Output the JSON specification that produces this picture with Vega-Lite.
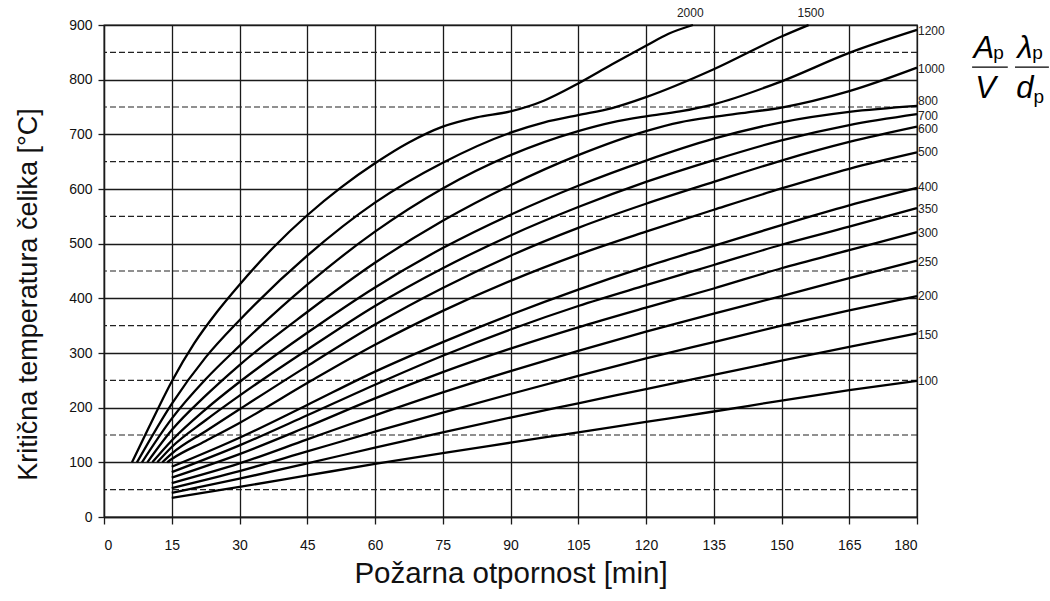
{
  "$schema": "https://vega.github.io/schema/vega-lite/v6.json",
  "width": 813,
  "height": 492,
  "autosize": {"type": "none"},
  "padding": {"left": 104, "top": 25, "right": 133, "bottom": 84},
  "background": "white",
  "config": {"view": {"stroke": "#1a1a1a", "strokeWidth": 1.3}, "font": "Liberation Sans"},
  "datasets": {
    "dash": [{"T": 50}, {"T": 150}, {"T": 250}, {"T": 350}, {"T": 450}, {"T": 550}, {"T": 650}, {"T": 750}, {"T": 850}],
    "curves": [
      {"K": 2000, "t": 6.2, "T": 100}, {"K": 2000, "t": 10, "T": 165}, {"K": 2000, "t": 15, "T": 248}, {"K": 2000, "t": 20, "T": 318}, {"K": 2000, "t": 25, "T": 375}, {"K": 2000, "t": 30, "T": 425}, {"K": 2000, "t": 37.5, "T": 493}, {"K": 2000, "t": 45, "T": 552}, {"K": 2000, "t": 52.5, "T": 603}, {"K": 2000, "t": 60, "T": 647}, {"K": 2000, "t": 67.5, "T": 685}, {"K": 2000, "t": 75, "T": 714}, {"K": 2000, "t": 82.5, "T": 731}, {"K": 2000, "t": 90, "T": 742}, {"K": 2000, "t": 97.5, "T": 762}, {"K": 2000, "t": 105, "T": 793}, {"K": 2000, "t": 112.5, "T": 828}, {"K": 2000, "t": 120, "T": 862}, {"K": 2000, "t": 125, "T": 884}, {"K": 2000, "t": 130.4, "T": 900},
      {"K": 1500, "t": 7.3, "T": 100}, {"K": 1500, "t": 15, "T": 207}, {"K": 1500, "t": 22.5, "T": 292}, {"K": 1500, "t": 30, "T": 360}, {"K": 1500, "t": 45, "T": 478}, {"K": 1500, "t": 60, "T": 575}, {"K": 1500, "t": 75, "T": 648}, {"K": 1500, "t": 90, "T": 703}, {"K": 1500, "t": 97.5, "T": 722}, {"K": 1500, "t": 105, "T": 735}, {"K": 1500, "t": 112.5, "T": 748}, {"K": 1500, "t": 120, "T": 768}, {"K": 1500, "t": 135, "T": 819}, {"K": 1500, "t": 150, "T": 879}, {"K": 1500, "t": 156, "T": 900},
      {"K": 1200, "t": 8.4, "T": 100}, {"K": 1200, "t": 15, "T": 180}, {"K": 1200, "t": 22.5, "T": 252}, {"K": 1200, "t": 30, "T": 313}, {"K": 1200, "t": 45, "T": 425}, {"K": 1200, "t": 60, "T": 522}, {"K": 1200, "t": 75, "T": 601}, {"K": 1200, "t": 90, "T": 662}, {"K": 1200, "t": 105, "T": 706}, {"K": 1200, "t": 112.5, "T": 722}, {"K": 1200, "t": 120, "T": 733}, {"K": 1200, "t": 127.5, "T": 742}, {"K": 1200, "t": 135, "T": 755}, {"K": 1200, "t": 150, "T": 797}, {"K": 1200, "t": 165, "T": 849}, {"K": 1200, "t": 180, "T": 891},
      {"K": 1000, "t": 9.6, "T": 100}, {"K": 1000, "t": 15, "T": 159}, {"K": 1000, "t": 22.5, "T": 222}, {"K": 1000, "t": 30, "T": 278}, {"K": 1000, "t": 45, "T": 375}, {"K": 1000, "t": 60, "T": 465}, {"K": 1000, "t": 75, "T": 542}, {"K": 1000, "t": 90, "T": 607}, {"K": 1000, "t": 105, "T": 662}, {"K": 1000, "t": 120, "T": 706}, {"K": 1000, "t": 127.5, "T": 722}, {"K": 1000, "t": 135, "T": 732}, {"K": 1000, "t": 142.5, "T": 740}, {"K": 1000, "t": 150, "T": 749}, {"K": 1000, "t": 165, "T": 779}, {"K": 1000, "t": 180, "T": 822},
      {"K": 800, "t": 10.7, "T": 100}, {"K": 800, "t": 15, "T": 140}, {"K": 800, "t": 22.5, "T": 197}, {"K": 800, "t": 30, "T": 247}, {"K": 800, "t": 45, "T": 337}, {"K": 800, "t": 60, "T": 420}, {"K": 800, "t": 75, "T": 492}, {"K": 800, "t": 90, "T": 553}, {"K": 800, "t": 105, "T": 606}, {"K": 800, "t": 120, "T": 652}, {"K": 800, "t": 135, "T": 692}, {"K": 800, "t": 150, "T": 722}, {"K": 800, "t": 165, "T": 741}, {"K": 800, "t": 180, "T": 752},
      {"K": 700, "t": 11.8, "T": 100}, {"K": 700, "t": 15, "T": 128}, {"K": 700, "t": 22.5, "T": 177}, {"K": 700, "t": 30, "T": 222}, {"K": 700, "t": 45, "T": 306}, {"K": 700, "t": 60, "T": 386}, {"K": 700, "t": 75, "T": 455}, {"K": 700, "t": 90, "T": 515}, {"K": 700, "t": 105, "T": 567}, {"K": 700, "t": 120, "T": 613}, {"K": 700, "t": 135, "T": 653}, {"K": 700, "t": 150, "T": 689}, {"K": 700, "t": 165, "T": 717}, {"K": 700, "t": 180, "T": 737},
      {"K": 600, "t": 12.9, "T": 100}, {"K": 600, "t": 15, "T": 116}, {"K": 600, "t": 22.5, "T": 157}, {"K": 600, "t": 30, "T": 197}, {"K": 600, "t": 45, "T": 276}, {"K": 600, "t": 60, "T": 352}, {"K": 600, "t": 75, "T": 419}, {"K": 600, "t": 90, "T": 478}, {"K": 600, "t": 105, "T": 529}, {"K": 600, "t": 120, "T": 573}, {"K": 600, "t": 135, "T": 613}, {"K": 600, "t": 150, "T": 652}, {"K": 600, "t": 165, "T": 686}, {"K": 600, "t": 180, "T": 714},
      {"K": 500, "t": 14, "T": 100}, {"K": 500, "t": 15, "T": 106}, {"K": 500, "t": 22.5, "T": 139}, {"K": 500, "t": 30, "T": 172}, {"K": 500, "t": 45, "T": 245}, {"K": 500, "t": 60, "T": 315}, {"K": 500, "t": 75, "T": 377}, {"K": 500, "t": 90, "T": 432}, {"K": 500, "t": 105, "T": 480}, {"K": 500, "t": 120, "T": 522}, {"K": 500, "t": 135, "T": 562}, {"K": 500, "t": 150, "T": 601}, {"K": 500, "t": 165, "T": 637}, {"K": 500, "t": 180, "T": 667},
      {"K": 400, "t": 15, "T": 92}, {"K": 400, "t": 30, "T": 145}, {"K": 400, "t": 45, "T": 205}, {"K": 400, "t": 60, "T": 266}, {"K": 400, "t": 75, "T": 320}, {"K": 400, "t": 90, "T": 370}, {"K": 400, "t": 105, "T": 416}, {"K": 400, "t": 120, "T": 458}, {"K": 400, "t": 135, "T": 496}, {"K": 400, "t": 150, "T": 534}, {"K": 400, "t": 165, "T": 570}, {"K": 400, "t": 180, "T": 602},
      {"K": 350, "t": 15, "T": 82}, {"K": 350, "t": 30, "T": 131}, {"K": 350, "t": 45, "T": 186}, {"K": 350, "t": 60, "T": 242}, {"K": 350, "t": 75, "T": 295}, {"K": 350, "t": 90, "T": 343}, {"K": 350, "t": 105, "T": 386}, {"K": 350, "t": 120, "T": 424}, {"K": 350, "t": 135, "T": 461}, {"K": 350, "t": 150, "T": 498}, {"K": 350, "t": 165, "T": 531}, {"K": 350, "t": 180, "T": 565},
      {"K": 300, "t": 15, "T": 72}, {"K": 300, "t": 30, "T": 115}, {"K": 300, "t": 45, "T": 165}, {"K": 300, "t": 60, "T": 217}, {"K": 300, "t": 75, "T": 265}, {"K": 300, "t": 90, "T": 308}, {"K": 300, "t": 105, "T": 347}, {"K": 300, "t": 120, "T": 383}, {"K": 300, "t": 135, "T": 418}, {"K": 300, "t": 150, "T": 455}, {"K": 300, "t": 165, "T": 488}, {"K": 300, "t": 180, "T": 521},
      {"K": 250, "t": 15, "T": 62}, {"K": 250, "t": 30, "T": 98}, {"K": 250, "t": 45, "T": 142}, {"K": 250, "t": 60, "T": 186}, {"K": 250, "t": 75, "T": 228}, {"K": 250, "t": 90, "T": 267}, {"K": 250, "t": 105, "T": 304}, {"K": 250, "t": 120, "T": 339}, {"K": 250, "t": 135, "T": 372}, {"K": 250, "t": 150, "T": 404}, {"K": 250, "t": 165, "T": 437}, {"K": 250, "t": 180, "T": 469},
      {"K": 200, "t": 15, "T": 53}, {"K": 200, "t": 30, "T": 84}, {"K": 200, "t": 45, "T": 120}, {"K": 200, "t": 60, "T": 156}, {"K": 200, "t": 75, "T": 191}, {"K": 200, "t": 90, "T": 225}, {"K": 200, "t": 105, "T": 258}, {"K": 200, "t": 120, "T": 290}, {"K": 200, "t": 135, "T": 320}, {"K": 200, "t": 150, "T": 350}, {"K": 200, "t": 165, "T": 378}, {"K": 200, "t": 180, "T": 404},
      {"K": 150, "t": 15, "T": 44}, {"K": 150, "t": 30, "T": 70}, {"K": 150, "t": 45, "T": 98}, {"K": 150, "t": 60, "T": 127}, {"K": 150, "t": 75, "T": 155}, {"K": 150, "t": 90, "T": 182}, {"K": 150, "t": 105, "T": 208}, {"K": 150, "t": 120, "T": 234}, {"K": 150, "t": 135, "T": 260}, {"K": 150, "t": 150, "T": 286}, {"K": 150, "t": 165, "T": 311}, {"K": 150, "t": 180, "T": 336},
      {"K": 100, "t": 15, "T": 35}, {"K": 100, "t": 30, "T": 55}, {"K": 100, "t": 45, "T": 76}, {"K": 100, "t": 60, "T": 97}, {"K": 100, "t": 75, "T": 117}, {"K": 100, "t": 90, "T": 136}, {"K": 100, "t": 105, "T": 155}, {"K": 100, "t": 120, "T": 174}, {"K": 100, "t": 135, "T": 193}, {"K": 100, "t": 150, "T": 213}, {"K": 100, "t": 165, "T": 232}, {"K": 100, "t": 180, "T": 249}
    ],
    "rightLabels": [
      {"lab": "1200", "t": 180, "T": 889}, {"lab": "1000", "t": 180, "T": 819}, {"lab": "800", "t": 180, "T": 761}, {"lab": "700", "t": 180, "T": 734}, {"lab": "600", "t": 180, "T": 710},
      {"lab": "500", "t": 180, "T": 668}, {"lab": "400", "t": 180, "T": 604}, {"lab": "350", "t": 180, "T": 563}, {"lab": "300", "t": 180, "T": 520}, {"lab": "250", "t": 180, "T": 466},
      {"lab": "200", "t": 180, "T": 404}, {"lab": "150", "t": 180, "T": 333}, {"lab": "100", "t": 180, "T": 249}
    ],
    "topLabels": [{"lab": "2000", "t": 129.8, "T": 910}, {"lab": "1500", "t": 156.5, "T": 910}],
    "bigLetters": [
      {"s": "A", "t": 194.8, "T": 840}, {"s": "V", "t": 195.2, "T": 766},
      {"s": "λ", "t": 203.9, "T": 840}, {"s": "d", "t": 203.9, "T": 766}
    ],
    "subs": [{"s": "p", "t": 196.9, "T": 838}, {"s": "p", "t": 205.5, "T": 838}, {"s": "p", "t": 205.8, "T": 758}],
    "bars": [{"t": 192.2, "t2": 200.1, "T": 823}, {"t": 201.7, "t2": 209.2, "T": 823}]
  },
  "layer": [
    {
      "data": {"name": "dash"},
      "mark": {"type": "rule", "stroke": "#222", "strokeWidth": 1.2, "strokeDash": [6, 3]},
      "encoding": {"y": {"field": "T", "type": "quantitative", "scale": {"domain": [0, 900], "nice": false}}}
    },
    {
      "data": {"name": "curves"},
      "mark": {"type": "line", "color": "#000", "strokeWidth": 2.3, "interpolate": "monotone"},
      "encoding": {
        "x": {"field": "t", "type": "quantitative", "scale": {"domain": [0, 180], "nice": false},
          "axis": {"values": [0, 15, 30, 45, 60, 75, 90, 105, 120, 135, 150, 165, 180], "grid": true, "gridColor": "#1a1a1a", "gridWidth": 1.3, "gridOpacity": 1,
            "domainColor": "#1a1a1a", "domainWidth": 1.3, "tickColor": "#1a1a1a", "tickWidth": 1.3, "tickSize": 7, "labelFontSize": 14, "labelColor": "#111", "labelPadding": 14, "labelFont": "Liberation Sans",
            "title": "Požarna otpornost [min]", "titleFont": "Liberation Sans", "titleFontSize": 29.5, "titleFontWeight": "normal", "titleColor": "#111", "titlePadding": 7}},
        "y": {"field": "T", "type": "quantitative", "scale": {"domain": [0, 900], "nice": false},
          "axis": {"values": [0, 100, 200, 300, 400, 500, 600, 700, 800, 900], "grid": true, "gridColor": "#1a1a1a", "gridWidth": 1.3, "gridOpacity": 1,
            "domainColor": "#1a1a1a", "domainWidth": 1.3, "tickColor": "#1a1a1a", "tickWidth": 1.3, "tickSize": 6, "labelFontSize": 14, "labelColor": "#111", "labelPadding": 6, "labelFont": "Liberation Sans",
            "title": "Kritična temperatura čelika [°C]", "titleFont": "Liberation Sans", "titleFontSize": 27, "titleFontWeight": "normal", "titleColor": "#111", "titlePadding": 26, "titleY": 269}},
        "detail": {"field": "K", "type": "nominal"}
      }
    },
    {
      "data": {"name": "rightLabels"},
      "mark": {"type": "text", "align": "left", "baseline": "middle", "dx": 1, "fontSize": 12, "color": "#222", "font": "Liberation Sans"},
      "encoding": {"x": {"field": "t", "type": "quantitative"}, "y": {"field": "T", "type": "quantitative"}, "text": {"field": "lab"}}
    },
    {
      "data": {"name": "topLabels"},
      "mark": {"type": "text", "align": "center", "baseline": "bottom", "fontSize": 12, "color": "#222", "font": "Liberation Sans"},
      "encoding": {"x": {"field": "t", "type": "quantitative"}, "y": {"field": "T", "type": "quantitative"}, "text": {"field": "lab"}}
    },
    {
      "data": {"name": "bigLetters"},
      "mark": {"type": "text", "align": "center", "baseline": "alphabetic", "fontSize": 31, "fontStyle": "italic", "color": "#000", "font": "Liberation Sans"},
      "encoding": {"x": {"field": "t", "type": "quantitative"}, "y": {"field": "T", "type": "quantitative"}, "text": {"field": "s"}}
    },
    {
      "data": {"name": "subs"},
      "mark": {"type": "text", "align": "left", "baseline": "alphabetic", "fontSize": 19, "color": "#000", "font": "Liberation Sans"},
      "encoding": {"x": {"field": "t", "type": "quantitative"}, "y": {"field": "T", "type": "quantitative"}, "text": {"field": "s"}}
    },
    {
      "data": {"name": "bars"},
      "mark": {"type": "rule", "stroke": "#000", "strokeWidth": 1.3},
      "encoding": {"x": {"field": "t", "type": "quantitative"}, "x2": {"field": "t2"}, "y": {"field": "T", "type": "quantitative"}}
    }
  ]
}
